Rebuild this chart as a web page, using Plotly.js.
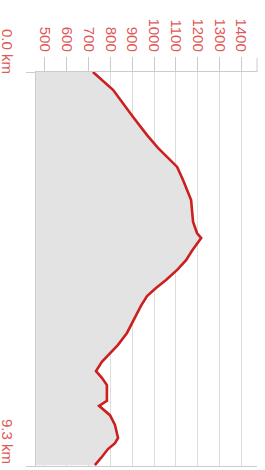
<!DOCTYPE html>
<html>
<head>
<meta charset="utf-8">
<script src="https://cdn.plot.ly/plotly-3.0.1.min.js"></script>
<style>html,body{margin:0;padding:0;background:#fff;}#chart{width:265px;height:470px;}</style>
</head>
<body>
<div id="chart"></div>
<script>
// Distance along route (km)
var distanceKm = [0, 0.42, 1.06, 1.49, 1.79, 2.08, 2.24, 2.55, 2.83, 3.02, 3.26, 3.54, 3.80, 3.92,
  4.22, 4.44, 4.67, 4.91, 5.10, 5.29, 5.52, 5.85, 6.16, 6.44, 6.63, 6.84, 7.06, 7.22, 7.39,
  7.58, 7.76, 7.88, 8.10, 8.33, 8.64, 8.76, 8.90, 9.11, 9.28];
// Elevation (m)
var elevationM = [720, 812, 904, 968, 1018, 1073, 1106, 1133, 1156, 1170, 1174, 1179, 1197, 1216,
  1174, 1147, 1106, 1055, 1009, 968, 940, 908, 876, 835, 798, 761, 734, 761, 784,
  784, 784, 748, 798, 821, 835, 821, 789, 757, 729];
var elevTicks = [500, 600, 700, 800, 900, 1000, 1100, 1200, 1300, 1400];
var distTicks = [0, 9.3];
var distLabels = ['0.0 km', '9.3 km'];

var labelColor = '#e05858';
var trace = {
  x: elevationM,
  y: distanceKm,
  type: 'scatter',
  mode: 'lines',
  fill: 'tozerox',
  fillcolor: '#e3e3e3',
  line: {color: '#cc1f1f', width: 2.6},
  hoverinfo: 'skip'
};

var annotations = distTicks.map(function (d, i) {
  return {
    xref: 'paper', yref: 'y', x: 0, y: d,
    text: distLabels[i], showarrow: false, textangle: 90,
    xanchor: 'right', yanchor: 'bottom', xshift: -18, yshift: i === 0 ? -4 : 0,
    font: {family: 'Arial, Liberation Sans, sans-serif', size: 15, color: labelColor}
  };
});

var layout = {
  width: 265, height: 470,
  margin: {l: 36, r: 8, t: 72, b: 4, pad: 0},
  paper_bgcolor: '#ffffff', plot_bgcolor: '#ffffff',
  showlegend: false,
  xaxis: {
    side: 'top', range: [459, 1472], autorange: false,
    tickmode: 'array', tickvals: elevTicks, ticktext: elevTicks.map(String),
    tickangle: 90, ticks: 'outside', ticklen: 14, tickcolor: '#cccccc', tickwidth: 1,
    tickfont: {family: 'Arial, Liberation Sans, sans-serif', size: 15, color: labelColor},
    showline: true, linecolor: '#cccccc', linewidth: 1, mirror: true,
    showgrid: true, gridcolor: '#dddddd', gridwidth: 1, zeroline: false, fixedrange: true
  },
  yaxis: {
    range: [9.3, 0], autorange: false,
    tickmode: 'array', tickvals: distTicks, ticktext: ['', ''],
    ticks: 'outside', ticklen: 9, tickcolor: '#cccccc', tickwidth: 1,
    showline: true, linecolor: '#cccccc', linewidth: 1,
    showgrid: false, zeroline: false, fixedrange: true
  },
  shapes: [{
    type: 'line', xref: 'paper', yref: 'paper', x0: 1, x1: 1, y0: 1, y1: 1 + 14 / 394,
    line: {color: '#cccccc', width: 1}
  }],
  annotations: annotations
};

Plotly.newPlot('chart', [trace], layout, {staticPlot: true, displayModeBar: false});
</script>
</body>
</html>
